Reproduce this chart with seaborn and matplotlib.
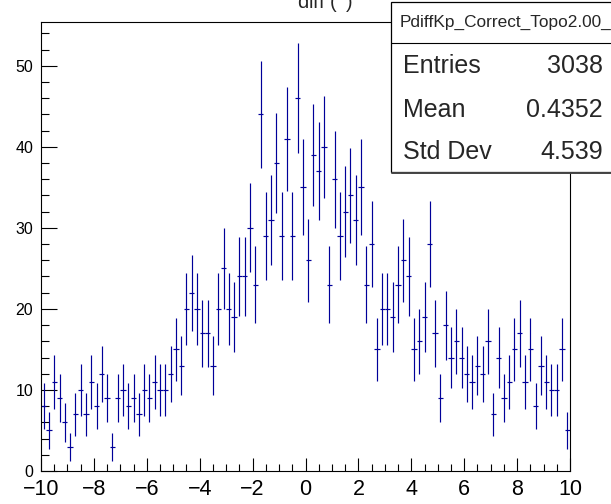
import numpy as np
import pandas as pd
import matplotlib
matplotlib.use("Agg")
import matplotlib.pyplot as plt
import seaborn as sns
from matplotlib.patches import Rectangle
from matplotlib.lines import Line2D
from matplotlib.ticker import MultipleLocator

# ---- data (bin contents, 100 bins from -10 to 10) ----
bin_low = -10.0
bin_high = 10.0
counts_a = [8, 5, 11, 9, 6, 3, 7, 10, 7, 11, 8, 12, 9, 3, 9, 10, 8, 9, 7, 10, 9, 11, 10, 10, 12]
counts_b = [15, 13, 20, 22, 20, 17, 17, 13, 20, 25, 20, 19, 24, 24, 30, 23, 44, 29, 31, 38, 29, 41, 29, 46, 35]
counts_c = [26, 39, 37, 40, 23, 36, 29, 32, 34, 31, 35, 23, 28, 15, 20, 20, 19, 23, 26, 24, 15, 16, 19, 28, 17]
counts_d = [9, 18, 14, 16, 14, 12, 11, 13, 12, 16, 7, 14, 9, 11, 15, 17, 11, 15, 8, 13, 11, 10, 10, 15, 5]
xticks = [-10, -8, -6, -4, -2, 0, 2, 4, 6, 8, 10]
yticks = [0, 10, 20, 30, 40, 50]
hist_name = "PdiffKp_Correct_Topo2.00_"
stat_labels = ["Entries", "Mean", "Std Dev"]
stat_values = ["3038", "0.4352", "4.539"]
title_text = "diff ($^{\\circ}$)"

counts = np.array(counts_a + counts_b + counts_c + counts_d, dtype=float)
nb = len(counts)
edges = np.linspace(bin_low, bin_high, nb + 1)
centers = 0.5 * (edges[:-1] + edges[1:])
df = pd.DataFrame({"x": centers, "n": counts, "err": np.sqrt(counts)})

sns.set_theme(style="white")
plt.rcParams["font.family"] = ["Liberation Sans", "DejaVu Sans"]
plt.rcParams["axes.unicode_minus"] = True

W, H = 611, 504
fig = plt.figure(figsize=(W / 100, H / 100), dpi=100)
ax = fig.add_axes([41 / W, (H - 471) / H, 529 / W, 449 / H])

blue = "#000099"
ax.errorbar(df["x"], df["n"], xerr=0.1, yerr=df["err"], fmt="none",
            ecolor=blue, elinewidth=0.85, capsize=0)

ax.set_xlim(bin_low, bin_high)
ax.set_ylim(0, 55.4)
ax.set_xticks(xticks)
ax.set_yticks(yticks)
ax.xaxis.set_minor_locator(MultipleLocator(0.5))
ax.yaxis.set_minor_locator(MultipleLocator(2))
ax.tick_params(axis="x", which="major", direction="in", length=9.4, width=0.8,
               labelsize=15.5, pad=5.5, colors="black", bottom=True, top=False)
ax.tick_params(axis="x", which="minor", direction="in", length=4.8, width=0.8,
               bottom=True, top=False, colors="black")
ax.tick_params(axis="y", which="major", direction="in", length=11.4, width=0.8,
               labelsize=11.5, pad=5.5, colors="black", left=True, right=False)
ax.tick_params(axis="y", which="minor", direction="in", length=5.8, width=0.8,
               left=True, right=False, colors="black")
for s in ax.spines.values():
    s.set_visible(True)
    s.set_color("black")
    s.set_linewidth(0.8)
ax.set_xlabel("")
ax.set_ylabel("")
ax.grid(False)

# title (mostly above the canvas, as in the reference)
fig.text(297 / W, 1 - 8 / H, title_text, fontsize=14.5, ha="left", va="baseline")

# stats box
bx0, by_top, by_bot = 391 / W, 1 - 2 / H, 1 - 172 / H
fig.add_artist(Rectangle((bx0, by_bot), 1.05 - bx0, by_top - by_bot, transform=fig.transFigure,
                         facecolor="white", edgecolor="black", linewidth=0.9, zorder=5))
fig.add_artist(Line2D([bx0 + 1 / W, 1.05], [by_bot - 1 / H, by_bot - 1 / H], transform=fig.transFigure,
                      color="#444444", linewidth=1.4, zorder=6))
fig.add_artist(Line2D([bx0, 1.05], [1 - 43 / H, 1 - 43 / H], transform=fig.transFigure,
                      color="black", linewidth=0.8, zorder=6))
fig.text(400 / W, 1 - 26.7 / H, hist_name, fontsize=12.4, ha="left", va="baseline", zorder=7)
for lab, val, yb in zip(stat_labels, stat_values, [73.3, 117.3, 159.3]):
    fig.text(403 / W, 1 - yb / H, lab, fontsize=18, ha="left", va="baseline", zorder=7)
    fig.text(603 / W, 1 - yb / H, val, fontsize=18, ha="right", va="baseline", zorder=7)

fig.savefig("out.png", dpi=100)
